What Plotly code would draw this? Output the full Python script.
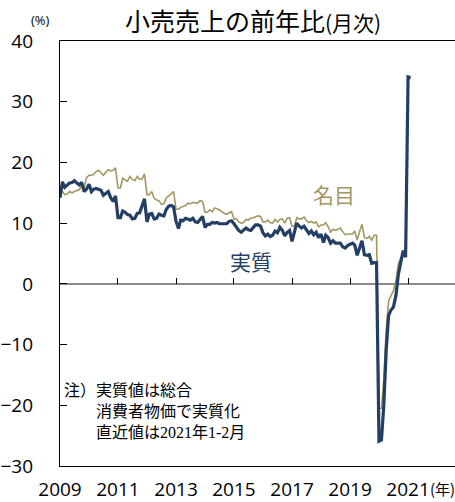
import plotly.graph_objects as go
import pandas as pd

# China retail sales, y/y % (monthly; Jan and Feb carry the Jan-Feb figure)
nominal = [
    15.2, 15.2, 14.7, 14.8, 15.2, 15.0, 15.2, 15.4, 15.5, 16.2, 15.8, 17.5,   # 2009
    17.9, 17.9, 18.0, 18.5, 18.7, 18.3, 17.9, 18.4, 18.8, 18.6, 18.7, 19.1,   # 2010
    15.8, 15.8, 17.4, 17.1, 16.9, 17.7, 17.2, 17.0, 17.7, 17.2, 17.3, 18.1,   # 2011
    14.7, 14.7, 15.2, 14.1, 13.8, 13.7, 13.1, 13.2, 14.2, 14.5, 14.9, 15.2,   # 2012
    12.3, 12.3, 12.6, 12.8, 12.9, 13.3, 13.2, 13.4, 13.3, 13.3, 13.7, 13.6,   # 2013
    11.8, 11.8, 12.2, 11.9, 12.5, 12.4, 12.2, 11.9, 11.6, 11.5, 11.7, 11.9,   # 2014
    10.7, 10.7, 10.2, 10.0, 10.1, 10.6, 10.5, 10.8, 10.9, 11.0, 11.2, 11.1,   # 2015
    10.2, 10.2, 10.5, 10.1, 10.0, 10.6, 10.2, 10.6, 10.7, 10.0, 10.8, 10.9,   # 2016
    9.5, 9.5, 10.9, 10.7, 10.7, 11.0, 10.4, 10.1, 10.3, 10.0, 10.2, 9.4,      # 2017
    9.7, 9.7, 10.1, 9.4, 8.5, 9.0, 8.8, 9.0, 9.2, 8.6, 8.1, 8.2,              # 2018
    8.2, 8.2, 8.7, 7.2, 8.6, 9.8, 7.6, 7.5, 7.8, 7.2, 8.0, 8.0,               # 2019
    -20.5, -20.5, -15.8, -7.5, -2.8, -1.8, -1.1, 0.5, 3.3, 4.3, 5.0, 4.6,     # 2020
    33.8, 33.8,                                                              # 2021
]
real = [
    14.2, 16.8, 15.9, 16.3, 16.6, 16.7, 17.0, 16.6, 16.3, 16.7, 15.2, 15.6,   # 2009
    16.4, 15.2, 15.6, 15.7, 15.6, 15.4, 14.6, 14.9, 15.2, 14.2, 13.6, 14.5,   # 2010
    10.9, 10.9, 12.0, 11.8, 11.4, 11.3, 10.7, 10.8, 11.6, 11.7, 13.1, 14.0,   # 2011
    10.2, 11.5, 11.6, 10.7, 10.8, 11.5, 11.3, 11.2, 12.3, 12.8, 12.9, 12.7,   # 2012
    10.3, 9.1, 10.5, 10.4, 10.8, 10.6, 10.5, 10.8, 10.2, 10.1, 10.7, 11.1,    # 2013
    9.3, 9.8, 9.8, 10.1, 10.0, 10.1, 9.9, 9.9, 10.0, 9.9, 10.3, 10.4,         # 2014
    9.9, 9.3, 8.8, 8.5, 8.9, 9.2, 8.9, 8.8, 9.3, 9.7, 9.7, 9.5,               # 2015
    8.4, 7.9, 8.2, 7.8, 8.0, 8.7, 8.4, 9.3, 8.8, 7.9, 8.5, 8.8,               # 2016
    7.0, 8.7, 10.0, 9.5, 9.2, 9.5, 9.0, 8.3, 8.7, 8.1, 8.5, 7.6,              # 2017
    8.2, 6.8, 8.0, 7.6, 6.7, 7.1, 6.7, 6.7, 6.7, 6.1, 5.9, 6.3,               # 2018
    6.5, 6.7, 6.4, 4.7, 5.9, 7.1, 4.8, 4.7, 4.8, 3.4, 3.5, 3.5,               # 2019
    -25.9, -25.7, -20.1, -10.8, -5.2, -4.3, -3.8, -1.9, 1.6, 3.8, 5.5, 4.4,   # 2020
    34.1, 34.0,                                                              # 2021
]
months = pd.date_range("2009-01-01", periods=len(nominal), freq="MS")

x_tick_years = [2009, 2011, 2013, 2015, 2017, 2019, 2021]
x_tick_vals = [f"{y}-01-01" for y in x_tick_years]
x_tick_text = [str(y) for y in x_tick_years]
y_ticks = [-30, -20, -10, 0, 10, 20, 30, 40]

NAVY = "#233F66"
OLIVE = "#A39660"
CJK = "Noto Sans CJK JP"
NUM = "Open Sans"

fig = go.Figure()
fig.add_trace(go.Scatter(x=months, y=nominal, mode="lines", name="名目",
                         line=dict(color=OLIVE, width=1.6), xaxis="x", yaxis="y"))
fig.add_trace(go.Scatter(x=months, y=real, mode="lines", name="実質",
                         line=dict(color=NAVY, width=3.2), xaxis="x2", yaxis="y"))

x_range = ["2009-01-01", "2022-08-15"]

fig.update_layout(
    width=455, height=502,
    margin=dict(l=60, r=0, t=41, b=36, autoexpand=False),
    plot_bgcolor="white", paper_bgcolor="white",
    showlegend=False,
    font=dict(family=NUM, color="black"),
    xaxis=dict(
        type="date", range=x_range, automargin=False,
        showline=True, mirror=True, linecolor="black", linewidth=1.3,
        ticks="", tickvals=x_tick_vals, ticktext=x_tick_text,
        tickfont=dict(family=NUM, size=19, color="black"),
        showgrid=False, zeroline=False, ticklabelstandoff=6,
    ),
    xaxis2=dict(
        type="date", range=x_range, matches="x", automargin=False,
        overlaying="x", anchor="free", position=3 / 7, side="bottom",
        showline=False, ticks="inside", ticklen=6, tickwidth=1.3, tickcolor="black",
        tickvals=x_tick_vals[1:], showticklabels=False,
        showgrid=False, zeroline=False,
    ),
    yaxis=dict(
        range=[-30, 40], tickvals=y_ticks, automargin=False,
        ticks="inside", ticklen=7, tickwidth=1.3, tickcolor="black",
        showline=True, linecolor="black", linewidth=1.3,
        showgrid=False,
        zeroline=True, zerolinecolor="#8a8a8a", zerolinewidth=1.6,
        tickfont=dict(family=NUM, size=19, color="black"),
        ticklabelstandoff=22,
    ),
)

annotations = [
    dict(text="小売売上の前年比<span style='font-size:21px'>(月次)</span>",
         xref="paper", yref="paper", x=0.4886, y=1.05, xanchor="center", yanchor="middle",
         font=dict(family=CJK, size=25, color="black"), showarrow=False),
    dict(text="(%)", xref="paper", yref="paper", x=-0.0506, y=1.049,
         xanchor="center", yanchor="middle",
         font=dict(family=NUM, size=13, color="black"), showarrow=False),
    dict(text="(年)", xref="x", yref="paper", x="2021-01-01", xshift=20, y=-0.054,
         xanchor="left", yanchor="middle",
         font=dict(family=CJK, size=15, color="black"), showarrow=False),
    dict(text="名目", xref="x", yref="y", x="2018-06-15", y=14.8,
         xanchor="center", yanchor="middle",
         font=dict(family=CJK, size=21, color=OLIVE), showarrow=False),
    dict(text="実質", xref="x", yref="y", x="2015-08-01", y=3.8,
         xanchor="center", yanchor="middle",
         font=dict(family=CJK, size=21, color=NAVY), showarrow=False),
    dict(text="注）実質値は総合<br>\u3000\u3000消費者物価で実質化<br>\u3000\u3000直近値は"
              "<span style='font-family:Liberation Serif'>2021</span>年"
              "<span style='font-family:Liberation Serif'>1-2</span>月",
         xref="paper", yref="paper", x=0.005, y=0.1318,
         xanchor="left", yanchor="middle", align="left",
         font=dict(family=CJK, size=16, color="black"), showarrow=False),
]
fig.update_layout(annotations=annotations)

fig.write_html(
    "out.html",
    config={"displayModeBar": False},
    post_script="document.body.style.margin='0px';document.body.style.overflow='hidden';",
)
